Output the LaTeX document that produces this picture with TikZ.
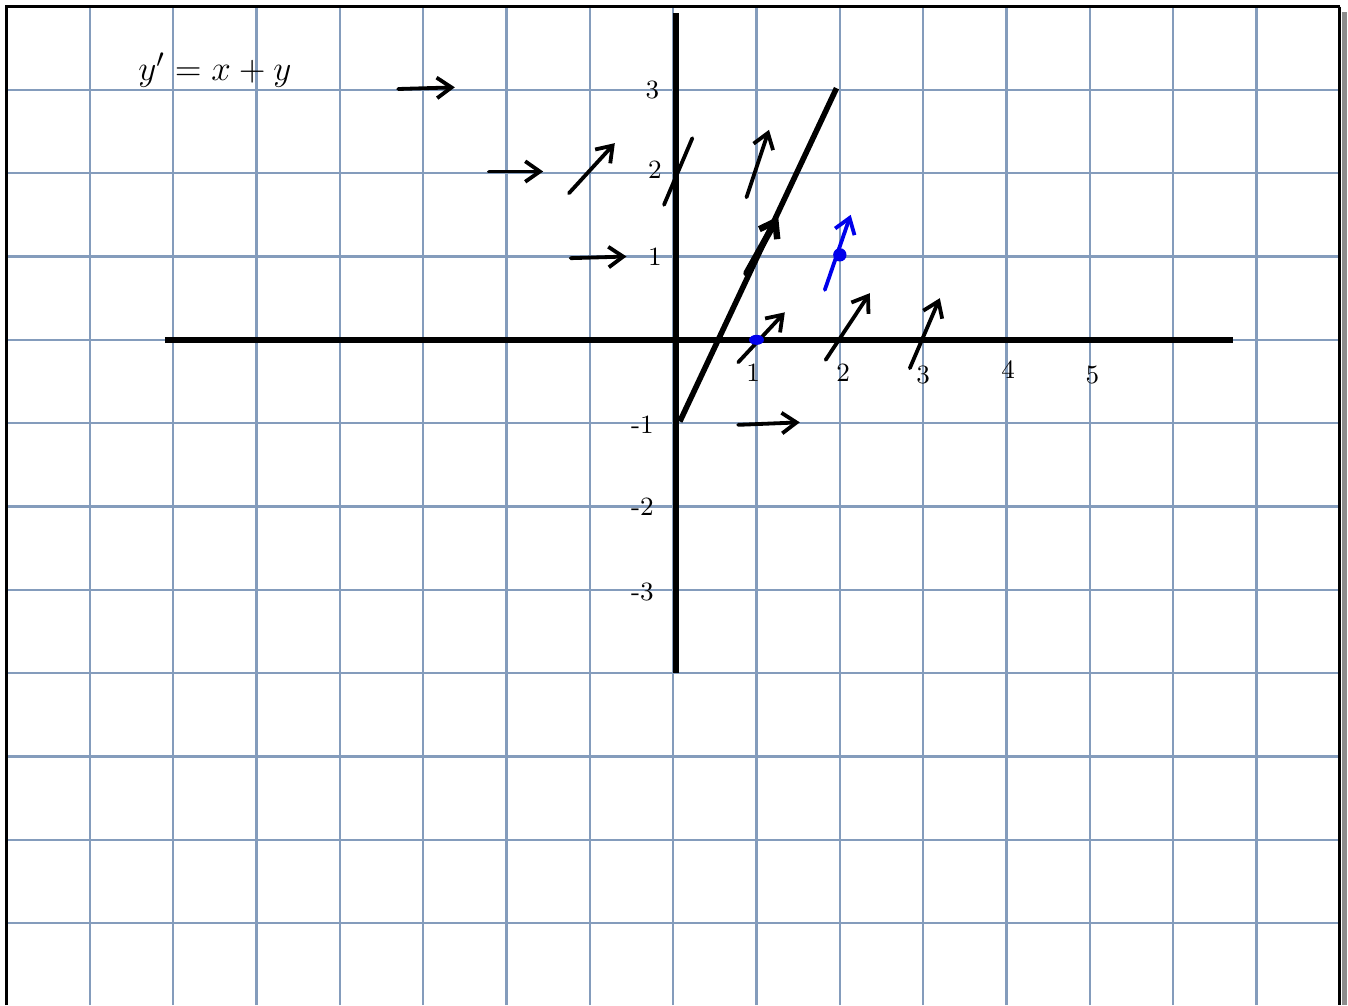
\documentclass[tikz,border=0pt]{standalone}
\usepackage{amsmath}
\usetikzlibrary{arrows.meta}
\definecolor{gridblue}{RGB}{132,156,188}
\definecolor{penblue}{RGB}{0,0,235}

\begin{document}
\begin{tikzpicture}[>={Straight Barb[length=5pt,width=7pt]},
  gridline/.style={draw=gridblue, line width=0.7pt},
  axis/.style={line width=1.9pt},
  slope/.style={->, line width=1.3pt, line cap=round},
  tick/.style={font=\small, inner sep=1pt}]
\useasboundingbox (-8.078,-7.983) rectangle (8.098,4.078);
% the grid paper
\fill[white] (-8.078,-7.983) rectangle (8.098,4.078);
\fill[black!45] (8.03,3.93) rectangle (8.08,-7.983);
\draw[gridline] (-8,-7.983) grid (8,4);
\draw[line width=0.8pt] (-8,-7.983) -- (-8,4) -- (8,4);
\draw[line width=1pt] (8,4) -- (8,-7.983);
% axes and the line y = 2x - 1
\draw[axis] (-6.1,0) -- (6.72,0);
\draw[axis] (0.034,3.92) -- (0.034,-4.0);
\draw[axis] (0.08,-0.98) -- (1.96,3.02);
\node[font=\fontsize{12.5}{15}\selectfont] (eq) at (-5.5,3.24) {$y' = x+y$};
\node[tick] (y3) at (-0.25,3.0) {3};
\node[tick] (y2) at (-0.22,2.04) {2};
\node[tick] (y1) at (-0.22,1.0) {1};
\node[tick] (ym1) at (-0.37,-1.02) {-1};
\node[tick] (ym2) at (-0.37,-2.0) {-2};
\node[tick] (ym3) at (-0.37,-3.03) {-3};
\node[tick] (x1) at (0.96,-0.39) {1};
\node[tick] (x2) at (2.04,-0.40) {2};
\node[tick] (x3) at (3.0,-0.42) {3};
\node[tick] (x4) at (4.02,-0.36) {4};
\node[tick] (x5) at (5.03,-0.42) {5};
% slope marks
\foreach \ax/\ay/\bx/\by in {-3.30/3.01/-2.62/3.03, -2.21/2.02/-1.56/2.02, -1.23/0.98/-0.56/1.0,
  0.78/-1.02/1.52/-0.99, -1.25/1.76/-0.70/2.36, 0.88/1.71/1.15/2.52,
  0.78/-0.27/1.34/0.33, 1.83/-0.24/2.36/0.56, 2.84/-0.34/3.2/0.5}
  \draw[slope] (\ax,\ay) -- (\bx,\by);
\draw[slope, -] (-0.11,1.62) -- (0.23,2.42);
\draw[slope, line width=2.2pt] (0.88,0.80) -- (1.26,1.48);
% blue marks
\fill[penblue] (1.0,0) ellipse (0.09 and 0.06);
\draw[slope, penblue] (1.82,0.6) -- (2.13,1.5);
\fill[penblue] (2.0,1.02) circle (0.08);
\end{tikzpicture}
\end{document}
